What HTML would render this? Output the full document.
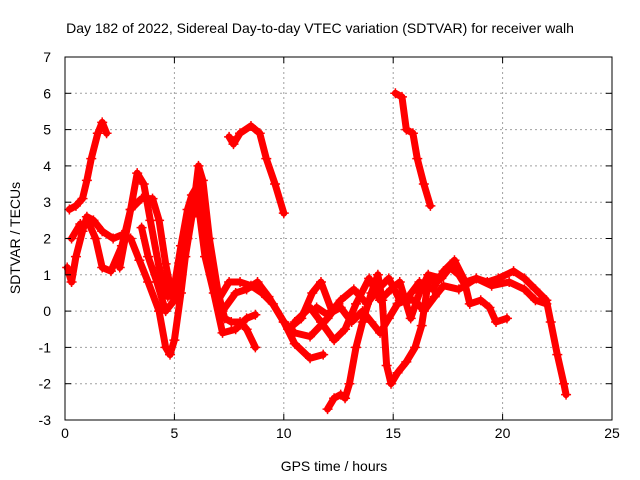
<!DOCTYPE html>
<html><head><meta charset="utf-8"><style>
body{margin:0;background:#fff;}
svg{display:block;font-family:"Liberation Sans",sans-serif;}
</style></head><body>
<svg id="chart" width="640" height="480" viewBox="0 0 640 480">
<rect width="640" height="480" fill="#fff"/>
<text x="320" y="33" text-anchor="middle" font-size="14">Day 182 of 2022, Sidereal Day-to-day VTEC variation (SDTVAR) for receiver walh</text>
<text x="334" y="471" text-anchor="middle" font-size="14">GPS time / hours</text>
<text transform="translate(20,238) rotate(-90)" text-anchor="middle" font-size="14">SDTVAR / TECUs</text>
<g id="grid"></g><g id="series"></g><g id="axes"></g>
</svg>
<script>
const xTicks=[0,5,10,15,20,25];
const yTicks=[-3,-2,-1,0,1,2,3,4,5,6,7];
const trackA=[[0.2,2.8],[0.5,2.9],[0.8,3.1],[1.0,3.6],[1.2,4.2],[1.5,4.9],[1.7,5.2],[1.9,4.9]];
const trackB=[[7.5,4.8],[7.7,4.6],[8.0,4.9],[8.5,5.1],[8.9,4.9],[9.2,4.2],[9.6,3.5],[10.0,2.7]];
const trackC=[[15.1,6.0],[15.4,5.9],[15.6,5.0],[15.9,4.9],[16.1,4.2],[16.4,3.5],[16.7,2.9]];
const trackD=[[0.1,1.2],[0.3,0.8],[0.5,1.5],[0.8,2.2],[1.0,2.6],[1.3,2.5],[1.7,2.2],[2.2,2.0],[2.6,2.1],[3.0,2.0],[3.4,1.4],[3.8,0.8],[4.3,0],[4.6,-1.0],[4.8,-1.2],[5.0,-0.8],[5.3,0.5],[5.6,2.0],[5.9,3.0],[6.1,4.0],[6.3,3.6],[6.6,2.0],[7.0,0.5],[7.3,-0.2],[7.6,-0.3],[8.0,-0.3],[8.3,-0.5],[8.7,-1.0]];
const trackE=[[0.3,2.0],[0.7,2.4],[1.1,2.4],[1.4,2.0],[1.7,1.2],[2.1,1.1],[2.6,1.8],[3.0,2.8],[3.3,3.8],[3.6,3.5],[3.9,2.5],[4.3,1.2],[4.7,0.4],[5.0,0.7],[5.3,1.8],[5.6,2.8],[5.8,3.2],[6.1,3.5],[6.4,2.0],[6.7,1.0],[7.0,0.3],[7.5,0.8],[8.0,0.8],[8.5,0.7],[9.0,0.5],[9.5,0.2],[10.0,-0.3],[10.5,-0.6],[11.2,-0.7],[12.0,-0.2],[12.5,0.2]];
const trackF=[[2.5,1.2],[3.0,2.8],[3.5,3.1],[4.0,3.1],[4.3,2.5],[4.6,1.3],[4.9,0.4],[5.2,0.9],[5.6,2.4],[5.9,3.2],[6.2,2.6],[6.6,1.2],[7.2,0.0],[7.8,0.5],[8.3,0.6],[8.8,0.8],[9.3,0.4],[10,-0.3],[10.5,-0.9],[11.2,-1.3],[11.8,-1.2]];
const trackG=[[3.5,2.3],[3.8,1.5],[4.2,0.8],[4.6,0.0],[5.0,0.3],[5.5,1.5],[5.8,2.6],[6.1,2.9],[6.4,1.5],[6.8,0.5],[7.2,-0.6],[7.8,-0.5],[8.3,-0.2],[8.7,-0.1]];
const trackH=[[10.2,-0.5],[10.8,-0.2],[11.3,0.5],[11.7,0.8],[12.2,0.0],[12.6,0.3],[13.2,0.6],[13.8,0.2],[14.3,0.6],[14.8,0.9],[15.3,0.3],[15.7,0.4],[16.2,0.8],[16.8,0.6],[17.3,1.1],[17.8,1.4],[18.3,0.8],[18.8,0.9],[19.3,0.8],[19.8,0.9],[20.5,1.1],[21.0,0.9],[21.5,0.6],[22.0,0.3],[22.2,-0.3],[22.5,-1.2],[22.8,-2.0],[22.9,-2.3]];
const trackI=[[10.5,-0.3],[11.2,0.1],[11.7,-0.3],[12.3,-0.8],[12.8,-0.5],[13.3,0.2],[13.9,0.9],[14.4,0.3],[14.9,0.6],[15.3,0.8],[15.8,-0.2],[16.2,0.5],[16.6,1.0],[17.2,0.9],[17.6,1.2],[18.0,1.0],[18.3,0.7],[18.5,0.2],[19.0,0.3],[19.4,0.1],[19.7,-0.3],[20.2,-0.2]];
const trackJ=[[11.5,0.1],[12.0,-0.1],[12.6,0.1],[13.1,-0.3],[13.6,0.0],[14.0,-0.3],[14.4,-0.6],[14.8,-0.2],[15.2,0.2],[15.6,0.3],[16.0,0.3],[16.4,0.0],[16.9,0.4],[17.3,0.7],[18.0,0.6],[18.8,0.9],[19.5,0.7],[20.3,0.8],[21.0,0.6],[21.5,0.3],[22.0,0.2]];
const trackK=[[12.0,-2.7],[12.3,-2.4],[12.6,-2.3],[12.8,-2.4],[13.0,-2.0],[13.3,-1.0],[13.6,-0.3],[14.0,0.5],[14.3,1.0],[14.5,0.3],[14.7,-1.5],[14.9,-2.0],[15.2,-1.7],[15.6,-1.4],[16.0,-1.0],[16.3,-0.4],[16.6,0.8],[17.0,0.9]];
const tracks=[trackA,trackB,trackC,trackD,trackE,trackF,trackG,trackH,trackI,trackJ,trackK];
const X0=65,X1=612,Y0=420,Y1=57;
const xs=v=>X0+(v-0)/25*(X1-X0);
const ys=v=>Y0-(v+3)/10*(Y0-Y1);
const NS="http://www.w3.org/2000/svg";
function mk(t,a,p){const e=document.createElementNS(NS,t);for(const k in a)e.setAttribute(k,a[k]);p.appendChild(e);return e;}
const grid=document.getElementById('grid'),axes=document.getElementById('axes'),ser=document.getElementById('series');
xTicks.forEach(t=>{const x=xs(t);
 if(t>0&&t<25){const l=mk('line',{x1:x,x2:x,y1:Y1,y2:Y0,stroke:'#a0a0a0','stroke-dasharray':'2,3'},grid);
 
 }
 mk('line',{x1:x,x2:x,y1:Y0,y2:Y0-6,stroke:'#000'},axes);
 mk('line',{x1:x,x2:x,y1:Y1,y2:Y1+6,stroke:'#000'},axes);
 const tx=mk('text',{x:x,y:Y0+18,'text-anchor':'middle','font-size':14},axes);tx.textContent=t;
 
 });
yTicks.forEach(t=>{const y=ys(t);
 if(t>-3&&t<7){const l=mk('line',{x1:X0,x2:X1,y1:y,y2:y,stroke:'#a0a0a0','stroke-dasharray':'2,3'},grid);
 
 }
 mk('line',{x1:X0,x2:X0+6,y1:y,y2:y,stroke:'#000'},axes);
 mk('line',{x1:X1,x2:X1-6,y1:y,y2:y,stroke:'#000'},axes);
 const tx=mk('text',{x:X0-14,y:y+5,'text-anchor':'end','font-size':14},axes);tx.textContent=t;
 
 });
const fr=mk('rect',{x:X0,y:Y1,width:X1-X0,height:Y0-Y1,fill:'none',stroke:'#000'},axes);


tracks.forEach((tr,i)=>{
 const pl=mk('polyline',{points:tr.map(p=>xs(p[0])+','+ys(p[1])).join(' '),fill:'none',stroke:'#ff0000','stroke-width':7,'stroke-linejoin':'round','stroke-linecap':'round'},ser);
 
 
 tr.forEach(p=>{const x=xs(p[0]),y=ys(p[1]);
  const m=mk('path',{d:`M${x-5},${y}H${x+5}M${x},${y-5}V${y+5}`,stroke:'#ff0000','stroke-width':1.5},ser);
  
  });
});
</script>
</body></html>
